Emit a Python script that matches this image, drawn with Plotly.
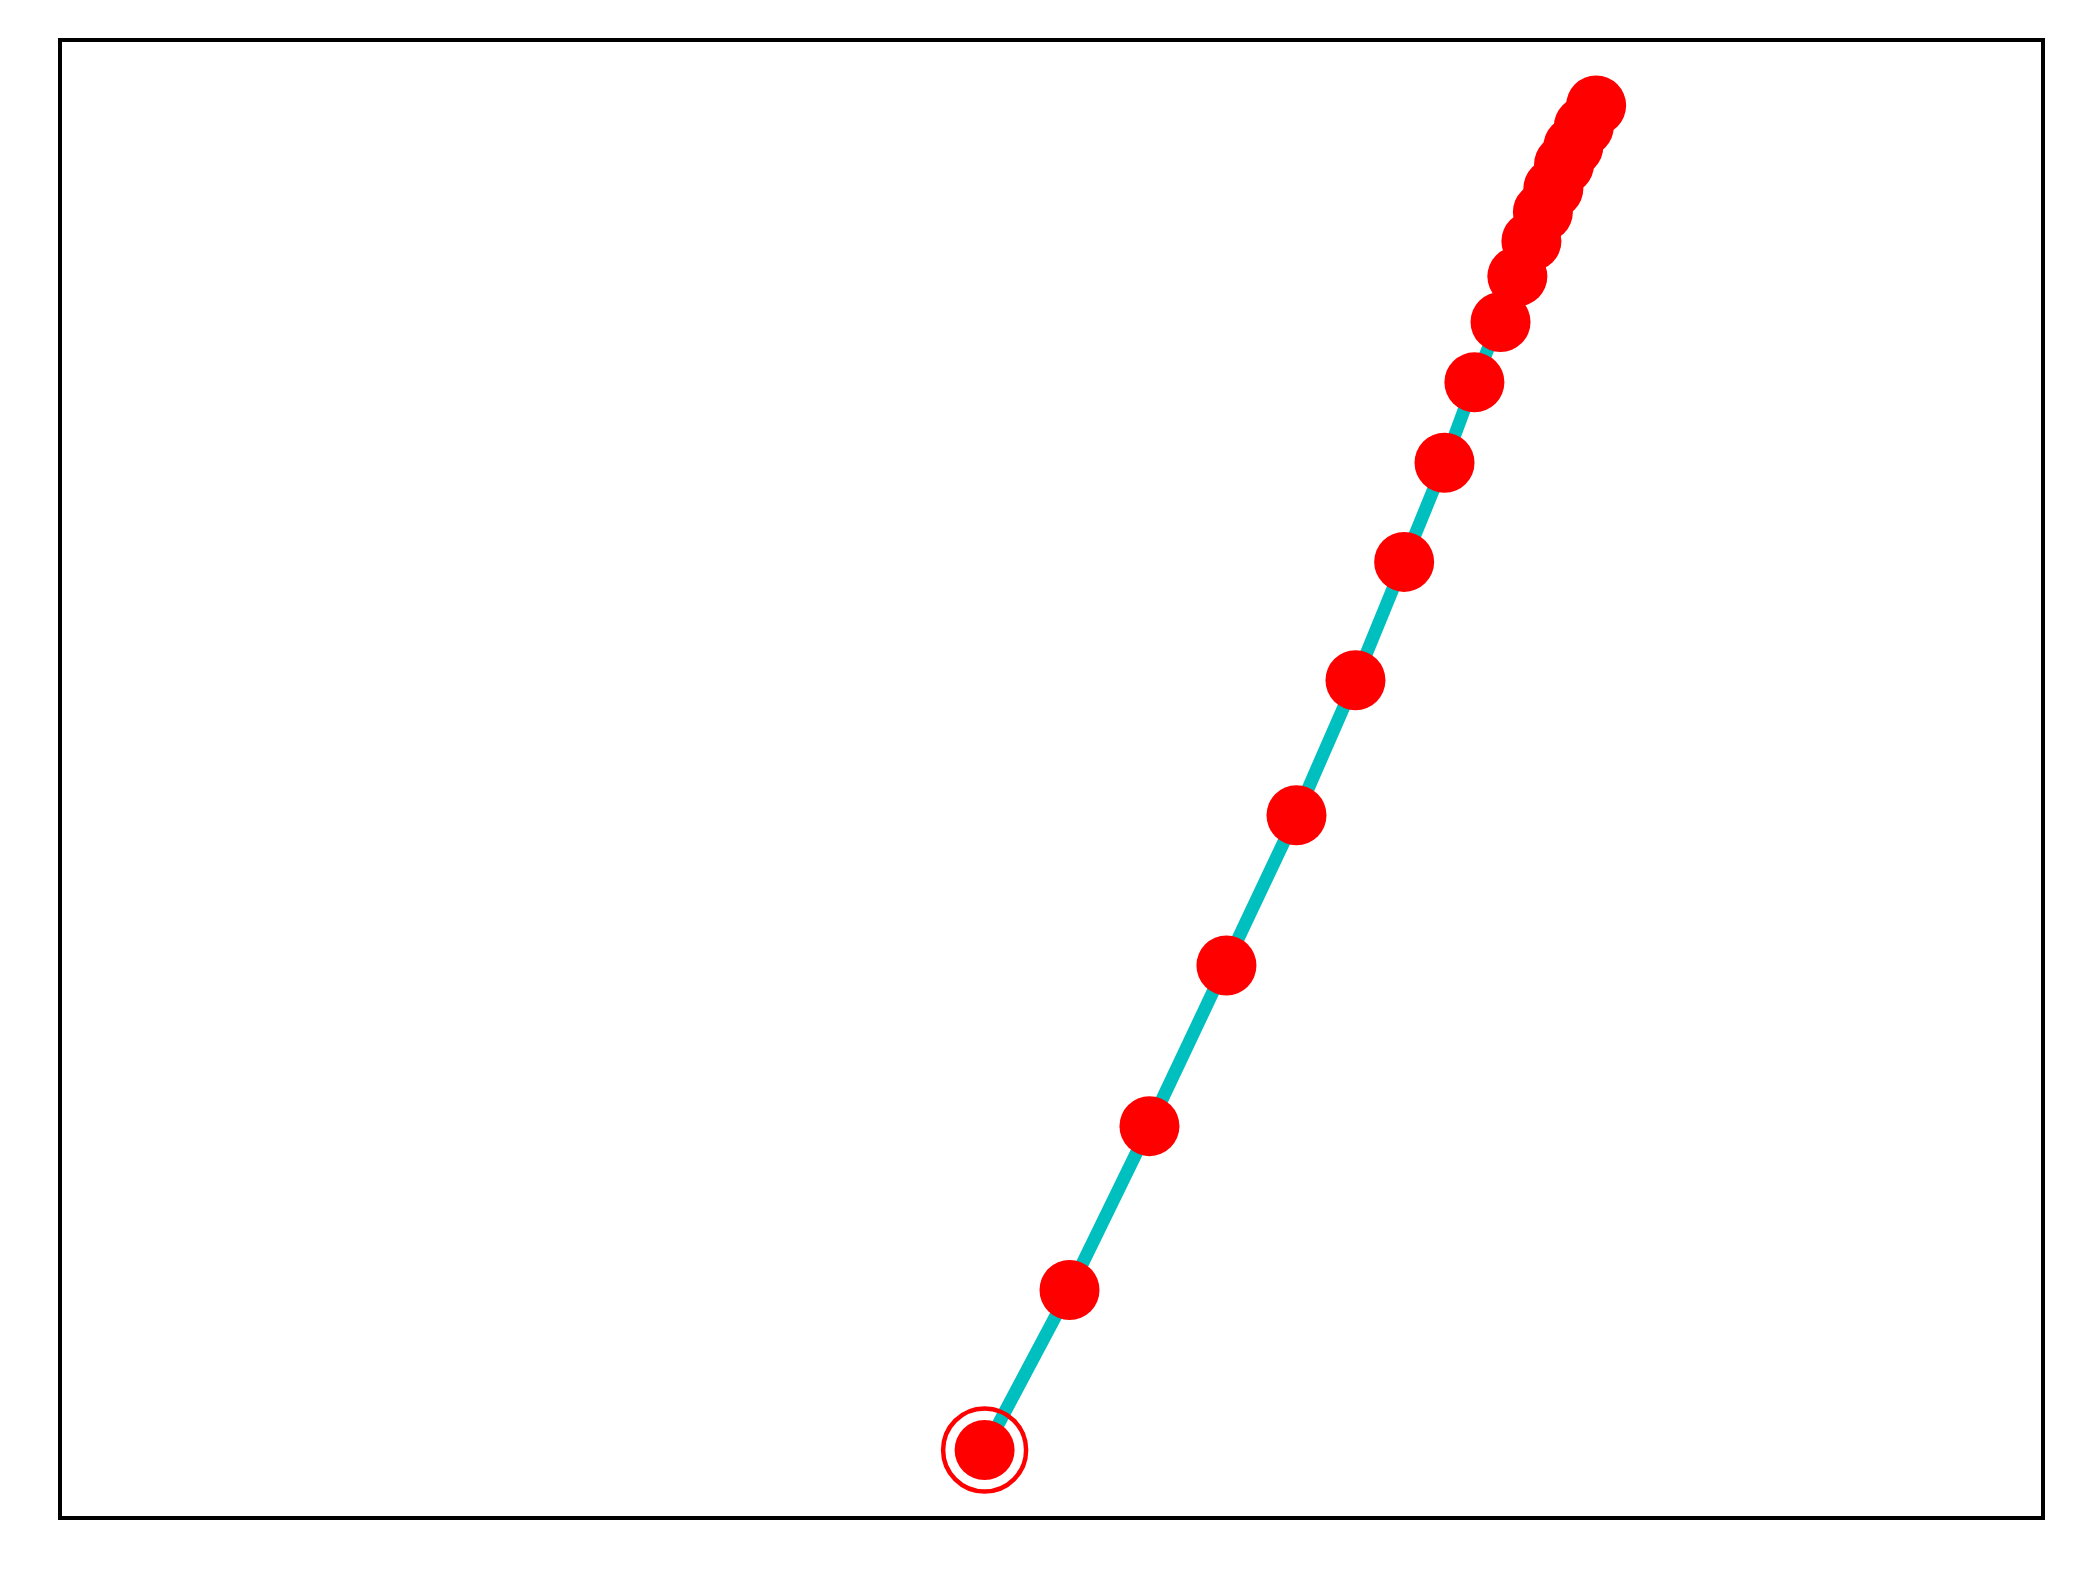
import plotly.graph_objects as go

# Trajectory points (axis units 0..1, no tick labels in the reference)
x_vals = [0.4662, 0.5091, 0.5495, 0.5884, 0.6238, 0.6536, 0.6782, 0.6986, 0.7137,
          0.7269, 0.7354, 0.7425, 0.7483, 0.7536, 0.7590, 0.7637, 0.7690, 0.7752]
y_vals = [0.0448, 0.1533, 0.2645, 0.3735, 0.4754, 0.5670, 0.6473, 0.7146, 0.7691,
          0.8101, 0.8410, 0.8649, 0.8846, 0.9006, 0.9169, 0.9291, 0.9427, 0.9569]

# Starting point highlighted with an open ring
start_x = [x_vals[0]]
start_y = [y_vals[0]]

fig = go.Figure()

fig.add_trace(go.Scatter(
    x=x_vals, y=y_vals, mode="lines",
    line=dict(color="#00BFBF", width=13),
    hoverinfo="skip", showlegend=False,
))
fig.add_trace(go.Scatter(
    x=x_vals, y=y_vals, mode="markers",
    marker=dict(color="#FF0000", size=60, line=dict(width=0)),
    showlegend=False,
))
fig.add_trace(go.Scatter(
    x=start_x, y=start_y, mode="markers",
    marker=dict(symbol="circle-open", color="#FF0000", size=83,
                line=dict(color="#FF0000", width=4.5)),
    showlegend=False,
))

axis_style = dict(
    range=[0, 1], showgrid=False, zeroline=False, showticklabels=False,
    ticks="", showline=True, linecolor="black", linewidth=4, mirror=True,
    fixedrange=True,
)
fig.update_xaxes(**axis_style)
fig.update_yaxes(**axis_style)

fig.update_layout(
    width=2083, height=1577,
    margin=dict(l=62, r=42, t=42, b=61, pad=0),
    plot_bgcolor="white", paper_bgcolor="white",
    showlegend=False,
)

fig.write_html("out.html", config={"displayModeBar": False},
               post_script="document.body.style.margin='0';")
